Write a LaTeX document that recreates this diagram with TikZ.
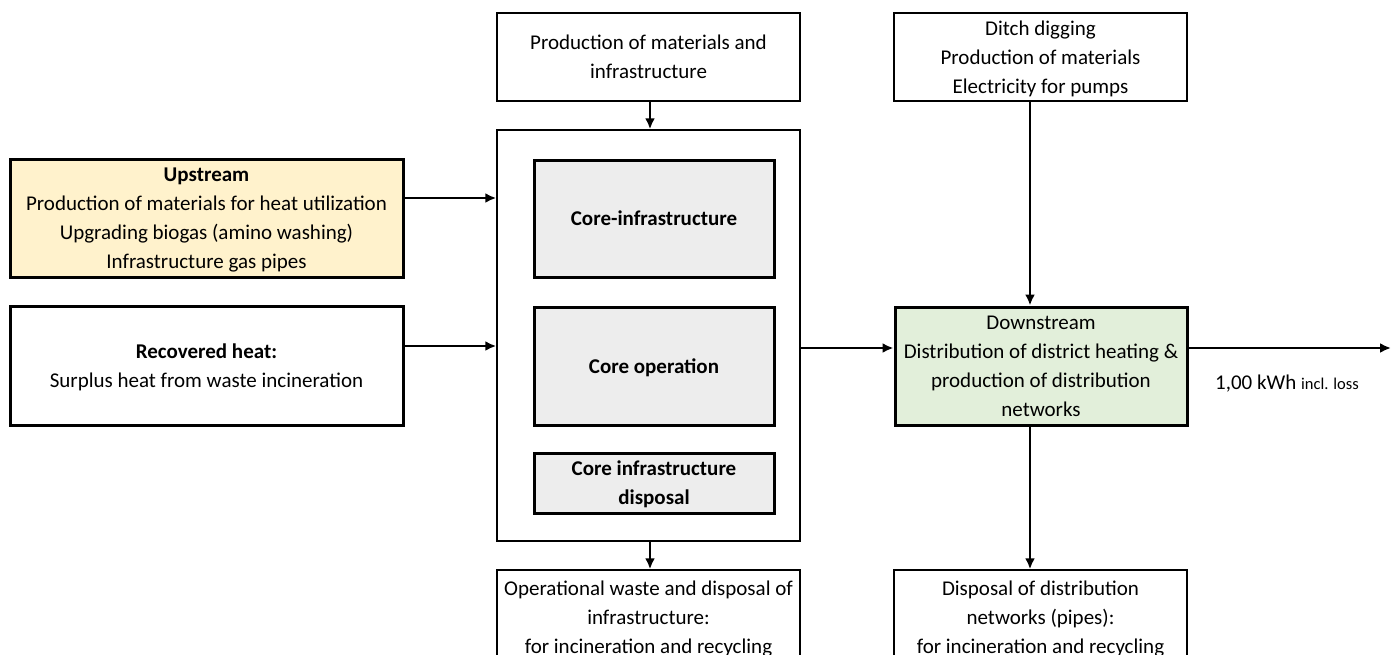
\documentclass[tikz,border=0pt]{standalone}
\usepackage{fontspec}
\setmainfont{Carlito}
\usetikzlibrary{arrows.meta}
\definecolor{upfill}{HTML}{FFF2CC}
\definecolor{corefill}{HTML}{EDEDED}
\definecolor{downfill}{HTML}{E2EFDA}

\begin{document}
\begin{tikzpicture}[x=1pt,y=-1pt,
  box/.style={draw,align=center,inner sep=0pt,text depth=-7pt,font=\fontsize{21}{29}\selectfont},
  thinbox/.style={box,line width=1.5pt},
  thickbox/.style={box,line width=3pt},
  flow/.style={-{Latex[length=11pt,width=10pt]},line width=2.2pt}]
\useasboundingbox (0,0) rectangle (1391,654);
\clip (0,0) rectangle (1391,654);

% left inputs
\node[thickbox,fill=upfill,minimum width=393pt,minimum height=118pt] (up) at (206.5,218)
  {\textbf{Upstream}\\Production of materials for heat utilization\\Upgrading biogas (amino washing)\\Infrastructure gas pipes};
\node[thickbox,minimum width=393pt,minimum height=119pt] (heat) at (206.5,365.5)
  {\textbf{Recovered heat:}\\Surplus heat from waste incineration};

% core
\node[thinbox,minimum width=303pt,minimum height=88pt] (mat) at (648.5,57)
  {Production of materials and\\infrastructure};
\node[thinbox,minimum width=303pt,minimum height=411pt] (core) at (648.5,335.5) {};
\node[thickbox,fill=corefill,minimum width=240pt,minimum height=117pt] (infra) at (654,218.5) {\textbf{Core-infrastructure}};
\node[thickbox,fill=corefill,minimum width=240pt,minimum height=118pt] (oper) at (654,366) {\textbf{Core operation}};
\node[thickbox,fill=corefill,minimum width=240pt,minimum height=60pt] (disp) at (654,483) {\textbf{Core infrastructure}\\\textbf{disposal}};
\node[thinbox,minimum width=303pt,minimum height=94pt] (waste) at (648.5,617)
  {Operational waste and disposal of\\infrastructure:\\for incineration and recycling};

% downstream
\node[thinbox,minimum width=293pt,minimum height=88pt] (ditch) at (1040.5,57)
  {Ditch digging\\Production of materials\\Electricity for pumps};
\node[thickbox,fill=downfill,minimum width=292pt,minimum height=118pt] (down) at (1041,366)
  {Downstream\\Distribution of district heating \&\\production of distribution\\networks};
\node[thinbox,minimum width=293pt,minimum height=94pt] (pipes) at (1040.5,617)
  {Disposal of distribution\\networks (pipes):\\for incineration and recycling};
\coordinate (out) at (1391,348);
\node[font=\fontsize{21}{24}\selectfont] (loss) at (1287,384) {1,00 kWh {\fontsize{16.5}{19}\selectfont incl. loss}};

% flows
\draw[flow] ([yshift=20pt]up.east) -- ([yshift=20pt]up.east -| core.west);
\draw[flow] ([yshift=19.5pt]heat.east) -- ([yshift=19.5pt]heat.east -| core.west);
\draw[flow] ([xshift=1.5pt]mat.south) -- ([xshift=1.5pt]core.north);
\draw[flow] ([xshift=1.5pt]core.south) -- ([xshift=1.5pt]waste.north);
\draw[flow] ([yshift=18pt]down.west -| core.east) -- ([yshift=18pt]down.west);
\draw[flow] ([xshift=-10.5pt]ditch.south) -- ([xshift=-11pt]down.north);
\draw[flow] ([xshift=-11pt]down.south) -- ([xshift=-10.5pt]pipes.north);
\draw[flow] (down.east |- out) -- (out);
\end{tikzpicture}
\end{document}
